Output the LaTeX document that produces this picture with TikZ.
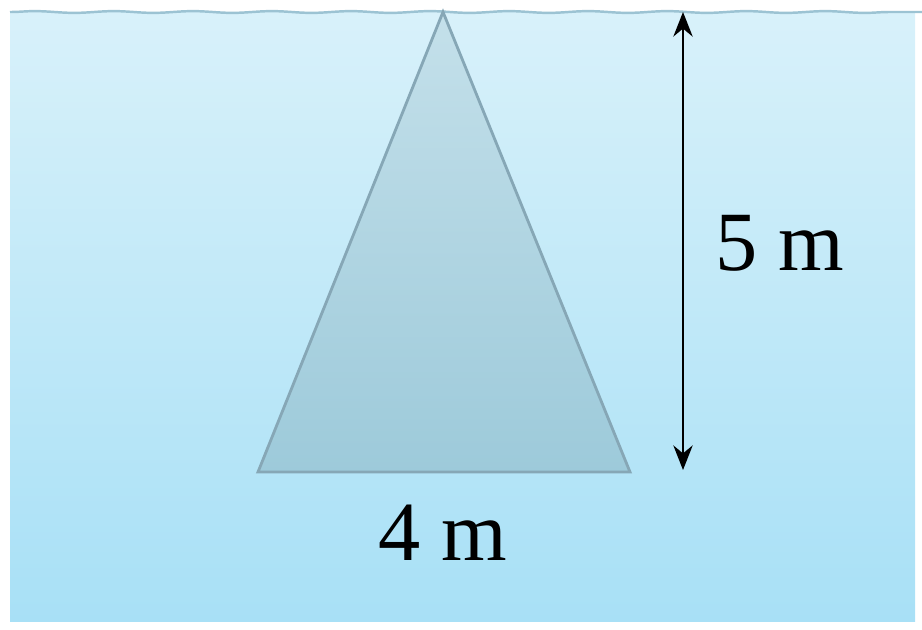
\documentclass[tikz,border=0pt]{standalone}
\usepackage{fontspec}
\setmainfont{Liberation Serif}
\usetikzlibrary{arrows.meta,decorations.pathmorphing}

\definecolor{waterTop}{HTML}{D8F1FA}
\definecolor{waterBottom}{HTML}{A8E0F6}
\definecolor{surfaceLine}{HTML}{9CC3D3}
\definecolor{plateTop}{HTML}{C4E0EA}
\definecolor{plateBottom}{HTML}{9DCADA}
\definecolor{plateEdge}{HTML}{86A7B6}

\tikzset{
  dimline/.style={line width=1.2pt,{Stealth[length=14pt,width=11pt]}-{Stealth[length=14pt,width=11pt]}},
  dimlabel/.style={anchor=base,font=\fontsize{48}{56}\selectfont}
}

\begin{document}
\begin{tikzpicture}[x=0.02cm,y=-0.02cm]
  \useasboundingbox (0,0) rectangle (922,629);
  \coordinate (apex) at (443,12);      % Tip at the surface
  \coordinate (baseL) at (258,472);    % Base, left end
  \coordinate (baseR) at (630,472);    % Base, right end
  \coordinate (depthT) at (683,12);    % Depth arrow, top
  \coordinate (depthB) at (683,470);   % Depth arrow, bottom

  % Water
  \shade[top color=waterTop,bottom color=waterBottom] (10,12) rectangle (915,621);
  \draw[surfaceLine,line width=1.4pt,decorate,
        decoration={snake,amplitude=0.5pt,segment length=45pt}] (10,12) -- (922,12);

  % Plate
  \shadedraw[top color=plateTop,bottom color=plateBottom,draw=plateEdge,line width=1.6pt]
    (apex) -- (baseR) -- (baseL) -- cycle;

  % Depth
  \draw[dimline] (depthT) -- (depthB);
  \node[dimlabel] (depth) at (780,270) {5 m};

  % Width
  \node[dimlabel] (width) at (443,560) {4 m};
\end{tikzpicture}
\end{document}
